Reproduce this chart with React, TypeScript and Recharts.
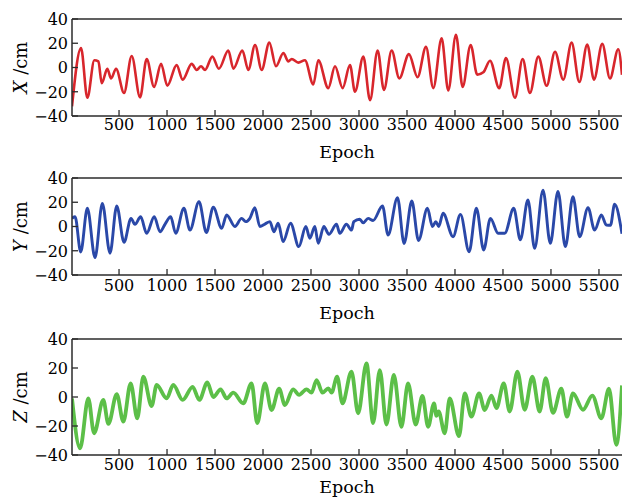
import React from 'react'
import { LineChart, Line, XAxis, YAxis, ReferenceLine } from 'recharts'

// epochs and values (peaks / troughs of each trace)
const xEpochs = [10, 104, 170, 243, 285, 320, 378, 417, 469, 552, 632, 719, 788, 865, 938, 1003, 1100, 1163, 1257, 1309, 1354, 1396, 1472, 1540, 1639, 1691, 1785, 1847, 1917, 1986, 2066, 2135, 2212, 2264, 2299, 2368, 2437, 2524, 2576, 2680, 2750, 2830, 2906, 2958, 3045, 3115, 3194, 3260, 3340, 3420, 3520, 3610, 3698, 3774, 3861, 3930, 4010, 4080, 4163, 4232, 4295, 4365, 4461, 4531, 4625, 4705, 4781, 4868, 4955, 5042, 5128, 5215, 5295, 5378, 5448, 5534, 5615, 5701, 5740]
const xValues = [-32, 16, -25, 6, 5, -13, -1, -9, -1, -21, 9.5, -24.6, 7, -16, 3, -15, 2, -10, 3, -2, 1, -2, 9, -1, 14, -1, 14, -2, 18.6, -2, 20.5, 1, 12, 5, 7, 4, 6, -14, 6, -17, 1, -17, 2, -20, 9, -27, 14, -18.6, 14, -9, 11, -8, 17, -17, 24, -19, 27, -16, 18.6, -6, -4, 5.6, -17, 7.8, -25, 7, -21, 9, -15, 13, -10, 20.5, -12, 19, -10, 19.5, -9, 15, -6]

const yEpochs = [10, 42, 101, 170, 250, 326, 406, 476, 552, 625, 666, 725, 788, 867, 927, 980, 1038, 1090, 1176, 1239, 1333, 1410, 1482, 1569, 1621, 1707, 1777, 1820, 1863, 1915, 1967, 2020, 2072, 2113, 2158, 2210, 2287, 2373, 2446, 2488, 2540, 2575, 2634, 2686, 2766, 2800, 2869, 2922, 2946, 3008, 3043, 3095, 3147, 3245, 3303, 3401, 3470, 3550, 3620, 3713, 3765, 3800, 3830, 3876, 3980, 4057, 4147, 4223, 4299, 4369, 4449, 4518, 4612, 4681, 4760, 4830, 4917, 4993, 5073, 5150, 5229, 5299, 5386, 5455, 5525, 5577, 5620, 5663, 5740]
const yValues = [6.7, 8, -21, 15, -25.7, 19, -22, 17, -13, 6.7, 1.8, 8, -5.6, 8, -4.3, 2, 8, -5.6, 15, -3, 20.5, -5, 16, -1.5, 9.5, 0, 6.7, 4, 6.7, 15.5, 0, 2, 4, -4.3, 2.7, -12.5, 2.7, -16.6, 0, -9.7, 0, -13.9, 0, -6.4, 1.8, -5.6, 1.8, -3, 4, 6, 3, 6.7, 5, 16.9, -7, 23.8, -14, 21, -11.5, 15, 0, 4, 0, 10.9, -8.4, 10, -20.8, 15, -19.4, 6.7, -5.6, -5.6, 15, -11, 21.8, -18, 30, -13.9, 29, -16.6, 24.6, -8.4, 15.5, -3, 9.5, 1.2, 1, 18.3, -6]

const zEpochs = [10, 94, 180, 240, 336, 389, 476, 545, 621, 690, 753, 840, 892, 996, 1065, 1163, 1267, 1336, 1420, 1482, 1558, 1621, 1690, 1794, 1881, 1940, 2020, 2089, 2168, 2228, 2314, 2376, 2453, 2506, 2558, 2620, 2680, 2714, 2772, 2828, 2922, 2991, 3078, 3147, 3217, 3286, 3363, 3442, 3511, 3591, 3661, 3720, 3782, 3807, 3830, 3893, 3945, 4042, 4102, 4171, 4251, 4310, 4380, 4432, 4508, 4570, 4650, 4726, 4806, 4882, 4945, 5021, 5108, 5167, 5229, 5333, 5431, 5525, 5604, 5681, 5740]
const zValues = [-1, -35.4, -1, -25, -2, -18.6, 2, -17, 9.4, -14.7, 14, -6.2, 8.3, -1, 8.3, -2, 7, -2, 10, 0, 5.3, -1, 3, -4.4, 9.4, -18, 9.4, -9, 5.7, -5.5, 5.3, 1.5, 5.3, 3, 11.7, 3, 6, 3, 14, -4.4, 17.5, -11.2, 23.2, -18, 18.6, -19, 15.2, -20.5, 9.4, -19, 0.7, -20.5, -4.4, -13, -10, -25, -1, -27, 2.5, -13.6, 2.5, -9, 1, -7.6, 9.4, -10, 17.5, -8.8, 14, -10, 13, -11, 5.7, -13.6, 2.5, -8.8, 1, -14.7, 5.7, -33, 8]

const epochTicks = [500, 1000, 1500, 2000, 2500, 3000, 3500, 4000, 4500, 5000, 5500]
const valueTicks = [-40, -20, 0, 20, 40]

const FONT = 'DejaVu Serif, Liberation Serif, serif'
const AXIS = '#2b2b2b'

const toRows = (epochs: number[], values: number[]) =>
  epochs.map((e, i) => ({ epoch: e, v: values[i] }))

const fmt = (v: number) => (v < 0 ? '\u2212' + Math.abs(v) : String(v))

function Panel(props: any) {
  const { top, marginTop, plotH, axisH, rows, color, lineW, letter, tickDy, epochDy } = props
  const height = marginTop + plotH + axisH

  const xTick = (p: any) => (
    <g>
      <line x1={p.x} y1={p.y} x2={p.x} y2={p.y - 6} stroke={AXIS} strokeWidth={1.3} />
      <text x={p.x} y={p.y + tickDy} textAnchor="middle" fontFamily={FONT} fontSize={16} fill="#000">
        {p.payload.value}
      </text>
    </g>
  )
  const yTick = (p: any) => (
    <g>
      <line x1={p.x} y1={p.y} x2={p.x + 6} y2={p.y} stroke={AXIS} strokeWidth={1.3} />
      <text x={p.x - 4} y={p.y + 5.8} textAnchor="end" fontFamily={FONT} fontSize={16} fill="#000">
        {fmt(p.payload.value)}
      </text>
    </g>
  )
  const epochLabel = (p: any) => {
    const vb = p.viewBox || {}
    return (
      <text x={vb.x + vb.width / 2} y={vb.y + epochDy} textAnchor="middle" fontFamily={FONT} fontSize={17.5} fill="#000">
        Epoch
      </text>
    )
  }
  const yLabel = (p: any) => {
    const vb = p.viewBox || {}
    const cx = 27
    const cy = vb.y + vb.height / 2
    return (
      <text x={cx} y={cy} transform={`rotate(-90, ${cx}, ${cy})`} textAnchor="middle" fontFamily={FONT} fontSize={18} fill="#000">
        <tspan fontStyle="italic">{letter}</tspan>
        <tspan> /cm</tspan>
      </text>
    )
  }

  return (
    <div style={{ position: 'absolute', top, left: 0 }}>
      <LineChart width={622} height={height} data={rows} margin={{ top: marginTop, right: 0, left: 0, bottom: 0 }}>
        <XAxis
          dataKey="epoch"
          type="number"
          domain={[10, 5740]}
          ticks={epochTicks}
          allowDataOverflow
          height={axisH}
          tickSize={0}
          tickMargin={0}
          tickLine={false}
          axisLine={{ stroke: AXIS, strokeWidth: 1.5 }}
          tick={xTick}
          label={epochLabel}
        />
        <YAxis
          type="number"
          domain={[-40, 40]}
          ticks={valueTicks}
          width={72}
          tickSize={0}
          tickMargin={0}
          tickLine={false}
          axisLine={{ stroke: AXIS, strokeWidth: 1.5 }}
          tick={yTick}
          label={yLabel}
        />
        <ReferenceLine y={40} stroke={AXIS} strokeWidth={1.5} />
        <Line type="monotone" dataKey="v" stroke={color} strokeWidth={lineW} dot={false} isAnimationActive={false} />
      </LineChart>
    </div>
  )
}

export default function App() {
  return (
    <div style={{ position: 'fixed', top: 0, left: 0, width: 622, height: 503, background: '#fff', overflow: 'hidden' }}>
      <Panel top={0} marginTop={19} plotH={97} axisH={50} rows={toRows(xEpochs, xValues)} color="#d8262c" lineW={2.6} letter="X" tickDy={14} epochDy={42} />
      <Panel top={166} marginTop={12} plotH={97} axisH={48} rows={toRows(yEpochs, yValues)} color="#2a48a8" lineW={2.9} letter="Y" tickDy={15.5} epochDy={44} />
      <Panel top={323} marginTop={16} plotH={116} axisH={48} rows={toRows(zEpochs, zValues)} color="#5cbf48" lineW={3.8} letter="Z" tickDy={15} epochDy={38} />
    </div>
  )
}
